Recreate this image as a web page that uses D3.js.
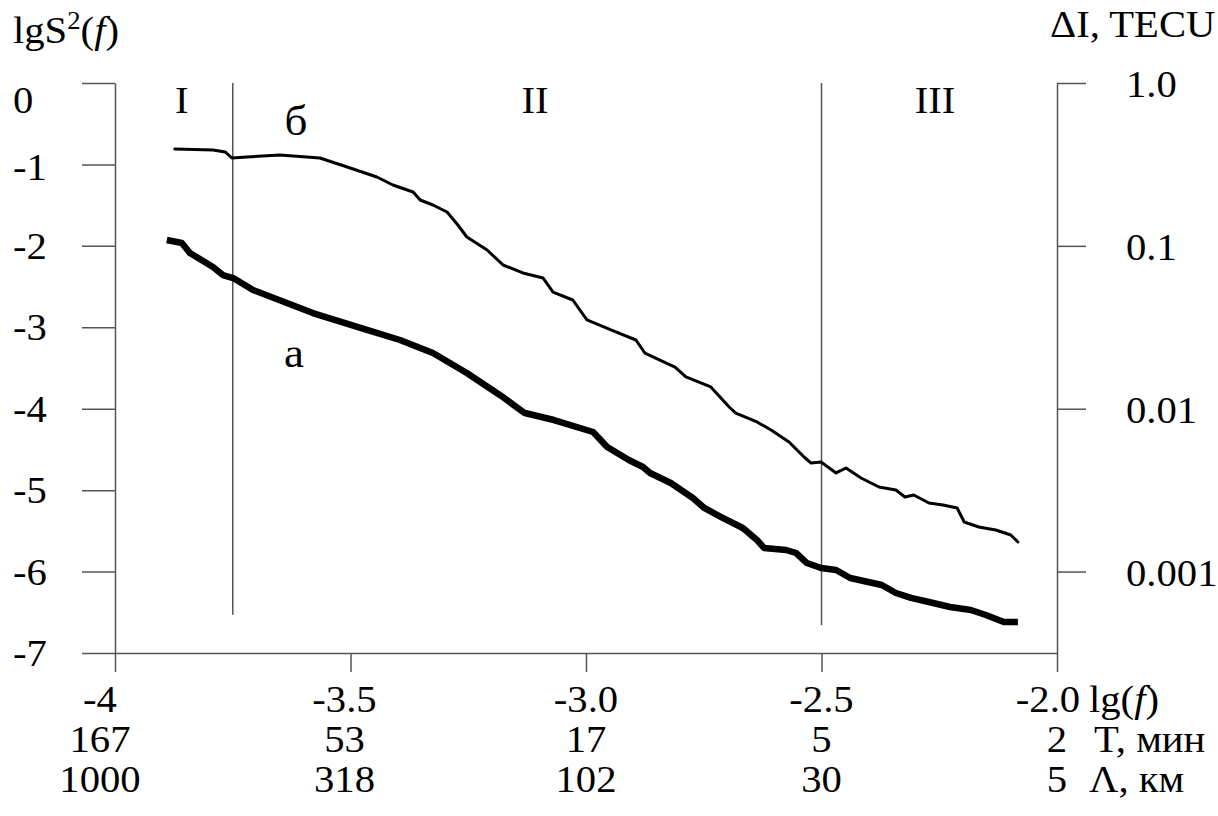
<!DOCTYPE html>
<html><head><meta charset="utf-8">
<script src="https://cdn.jsdelivr.net/npm/d3@7"></script>
<style>
body{margin:0;background:#fff;}
svg text{font-family:"Liberation Serif","Times New Roman",serif;fill:#000;}
</style></head><body>
<svg id="chart" width="1218" height="816"></svg>
<script>
// ---- data ----
const lgfTicks = [-4, -3.5, -3.0, -2.5, -2.0];
const lgfLabels = ["-4", "-3.5", "-3.0", "-2.5", "-2.0"];
const periodLabels = ["167", "53", "17", "5", "2"];
const wavelengthLabels = ["1000", "318", "102", "30", "5"];
const lgSTicks = [0, -1, -2, -3, -4, -5, -6, -7];
const lgSLabels = ["0", "-1", "-2", "-3", "-4", "-5", "-6", "-7"];
const tecuTicks = [1.0, 0.1, 0.01, 0.001];
const tecuLabels = ["1.0", "0.1", "0.01", "0.001"];
const regionBounds = [-3.75, -2.5];
const regionBoundBottoms = [-6.53, -6.66];
const regionNames = ["I", "II", "III"];
const regionCenters = [-3.858, -3.108, -2.259];

// curve б (thin)
const curveB_lgf = [-3.873,-3.792,-3.766,-3.752,-3.720,-3.650,-3.565,-3.507,-3.444,-3.410,-3.367,-3.352,-3.325,-3.295,-3.272,-3.253,-3.210,-3.176,-3.134,-3.091,-3.070,-3.028,-2.998,-2.947,-2.894,-2.875,-2.811,-2.788,-2.735,-2.696,-2.682,-2.637,-2.607,-2.569,-2.537,-2.522,-2.501,-2.469,-2.448,-2.416,-2.378,-2.342,-2.323,-2.304,-2.272,-2.242,-2.212,-2.197,-2.166,-2.130,-2.098,-2.083];
const curveB_lgS = [-0.811,-0.823,-0.847,-0.921,-0.909,-0.884,-0.921,-1.032,-1.154,-1.253,-1.339,-1.437,-1.498,-1.584,-1.744,-1.891,-2.051,-2.235,-2.333,-2.395,-2.567,-2.665,-2.910,-3.033,-3.156,-3.316,-3.488,-3.610,-3.733,-3.979,-4.053,-4.163,-4.261,-4.409,-4.593,-4.667,-4.654,-4.789,-4.728,-4.851,-4.961,-4.998,-5.084,-5.060,-5.158,-5.183,-5.219,-5.391,-5.453,-5.489,-5.551,-5.637];

// curve а (thick)
const curveA_lgf = [-3.890,-3.858,-3.841,-3.792,-3.771,-3.749,-3.707,-3.635,-3.580,-3.465,-3.395,-3.325,-3.253,-3.183,-3.130,-3.068,-2.985,-2.955,-2.909,-2.879,-2.864,-2.820,-2.773,-2.749,-2.713,-2.667,-2.637,-2.622,-2.575,-2.554,-2.531,-2.501,-2.469,-2.439,-2.401,-2.372,-2.342,-2.310,-2.272,-2.227,-2.183,-2.151,-2.113,-2.083];
const curveA_lgS = [-1.928,-1.965,-2.088,-2.260,-2.358,-2.395,-2.542,-2.702,-2.825,-3.033,-3.156,-3.316,-3.561,-3.831,-4.053,-4.139,-4.286,-4.470,-4.630,-4.716,-4.789,-4.912,-5.096,-5.219,-5.330,-5.465,-5.612,-5.710,-5.735,-5.772,-5.895,-5.956,-5.981,-6.079,-6.128,-6.165,-6.263,-6.324,-6.374,-6.435,-6.472,-6.533,-6.619,-6.619];

const curveLabels = [{t: "б", lgf: -3.616, lgS: -0.64}, {t: "а", lgf: -3.620, lgS: -3.49}];

// ---- drawing ----
const svg = d3.select("#chart");
const x = d3.scaleLinear().domain([-4, -2]).range([115, 1057]);
const y = d3.scaleLinear().domain([-7, 0]).range([653, 83]);
const yR = d3.scaleLog().domain([Math.pow(10, -3.5), 1]).range([653, 83]);
const axisColor = "#555";
const FS = 38;
const SX = 1.07;   // slight horizontal stretch seen in the scanned figure

function styleAxis(g) {
  g.selectAll(".domain, .tick line").attr("stroke", axisColor).attr("stroke-width", 1.5);
  g.selectAll(".tick text").remove();
}
function label(px, py, anchor, size) {
  return svg.append("text")
    .attr("transform", `translate(${px},${py}) scale(${SX},1)`)
    .attr("text-anchor", anchor || "start")
    .attr("font-size", size || FS);
}

svg.append("g").attr("transform", "translate(115,0)")
  .call(d3.axisLeft(y).tickValues(lgSTicks).tickSize(33).tickSizeOuter(0).tickFormat(""))
  .call(styleAxis);
svg.append("g").attr("transform", "translate(1057,0)")
  .call(d3.axisRight(yR).tickValues(tecuTicks).tickSize(29).tickSizeOuter(0).tickFormat(""))
  .call(styleAxis);
svg.append("g").attr("transform", "translate(0,653)")
  .call(d3.axisBottom(x).tickValues(lgfTicks).tickSize(19).tickSizeOuter(0).tickFormat(""))
  .call(styleAxis);

// region boundary lines
svg.selectAll(".rb").data(regionBounds).enter().append("line")
  .attr("x1", d => x(d)).attr("x2", d => x(d))
  .attr("y1", y(0)).attr("y2", (d, i) => y(regionBoundBottoms[i]))
  .attr("stroke", axisColor).attr("stroke-width", 1.5);

// curves
const line = d3.line().x(d => x(d[0])).y(d => y(d[1])).curve(d3.curveLinear);
const dataB = curveB_lgf.map((v, i) => [v, curveB_lgS[i]]);
const dataA = curveA_lgf.map((v, i) => [v, curveA_lgS[i]]);
svg.append("path").datum(dataB).attr("d", line).attr("fill", "none")
  .attr("stroke", "#000").attr("stroke-width", 3).attr("stroke-linejoin", "round").attr("stroke-linecap", "round");
svg.append("path").datum(dataA).attr("d", line).attr("fill", "none")
  .attr("stroke", "#000").attr("stroke-width", 6.5).attr("stroke-linejoin", "round").attr("stroke-linecap", "butt");

// left tick labels
const leftNudge = {"0": 30, "-1": 16};
lgSTicks.forEach((d, i) => {
  const off = leftNudge[lgSLabels[i]] !== undefined ? leftNudge[lgSLabels[i]] : 13;
  label(13, y(d) + off).text(lgSLabels[i]);
});

// right tick labels
tecuTicks.forEach((d, i) => label(1126, yR(d) + 14).text(tecuLabels[i]));

// bottom label rows
const rows = [lgfLabels, periodLabels, wavelengthLabels];
const rowBase = [712, 752, 792];
const last = lgfTicks.length - 1;
rows.forEach((labels, r) => {
  lgfTicks.forEach((d, i) => {
    let px = x(d);
    if (i === 0) px -= 15;
    if (i === 1) px -= 6;
    if (i === last && r === 0) px -= 9;
    label(px, rowBase[r], "middle").text(labels[i]);
  });
});
// units
const u1 = label(1089, rowBase[0]);
u1.append("tspan").text("lg(");
u1.append("tspan").attr("font-style", "italic").text("f");
u1.append("tspan").text(")");
label(1094, rowBase[1]).text("T, мин");
label(1089, rowBase[2]).text("Λ, км");

// axis titles
const tl = label(13, 43);
tl.append("tspan").text("lgS");
tl.append("tspan").attr("font-size", 25).attr("dy", -14).text("2");
tl.append("tspan").attr("dy", 14).text("(");
tl.append("tspan").attr("font-style", "italic").text("f");
tl.append("tspan").text(")");
label(1050, 37).text("ΔI, TECU");

// region names
regionCenters.forEach((d, i) => label(x(d), 113, "middle").text(regionNames[i]));

// curve labels
curveLabels.forEach(d => label(x(d.lgf), y(d.lgS), "middle", 42).text(d.t));
</script>
</body></html>
